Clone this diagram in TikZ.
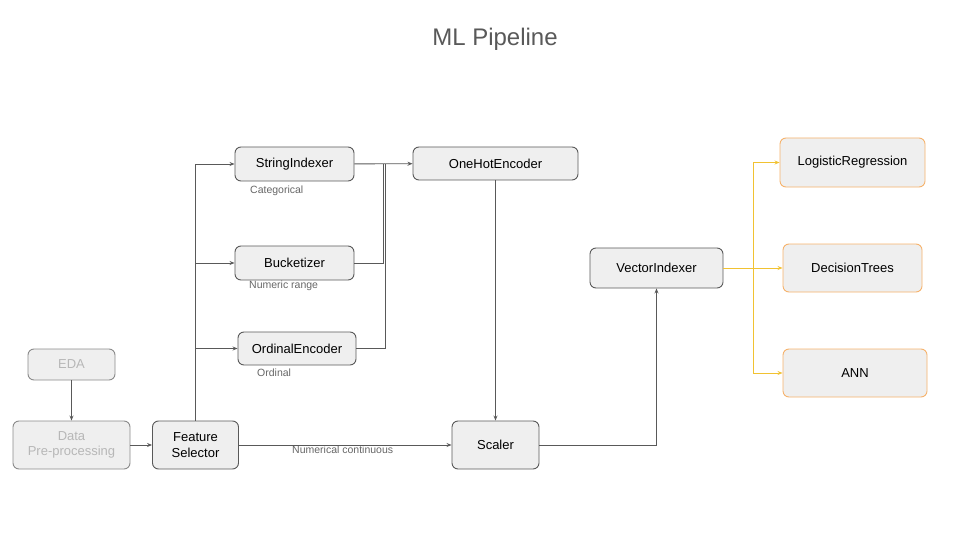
\documentclass[tikz,border=0pt]{standalone}
\usepackage{fontspec}
\setmainfont{Liberation Sans}
\usetikzlibrary{arrows.meta}
\definecolor{boxfill}{HTML}{EFEFEF}
\definecolor{boxdraw}{HTML}{595959}
\definecolor{fadedraw}{HTML}{8A8A8A}
\definecolor{fadetext}{HTML}{B7B7B7}
\definecolor{lbltext}{HTML}{666666}
\definecolor{titletext}{HTML}{595959}
\definecolor{orgdraw}{HTML}{F6B26B}
\definecolor{yelline}{HTML}{F1C232}
\begin{document}
\begin{tikzpicture}[x=1pt,y=-1pt,
  box/.style={draw=boxdraw,fill=boxfill,rounded corners=6pt,line width=0.9pt,
    font=\fontsize{13}{15.5}\selectfont,text=black,inner sep=0pt,align=center},
  fadebox/.style={box,draw=fadedraw,text=fadetext},
  orgbox/.style={box,draw=orgdraw},
  conn/.style={draw=boxdraw,line width=0.9pt,-{Stealth[length=5pt,width=4pt]}},
  plain/.style={draw=boxdraw,line width=0.9pt},
  yconn/.style={draw=yelline,line width=0.9pt,-{Stealth[length=5pt,width=4pt]}},
  yplain/.style={draw=yelline,line width=0.9pt},
  lbl/.style={font=\fontsize{10.5}{12}\selectfont,text=lbltext,inner sep=0pt,anchor=west}]
\useasboundingbox (0,0) rectangle (960,540);

\node[font=\fontsize{24}{28}\selectfont,text=titletext] (title) at (495,39) {ML Pipeline};

\node[fadebox,minimum width=87pt,minimum height=31pt] (eda) at (71.5,364.5) {EDA};
\node[fadebox,minimum width=117pt,minimum height=48pt] (data) at (71.5,445) {Data\\Pre-processing};
\node[box,minimum width=86pt,minimum height=48pt] (fs) at (195.5,445) {Feature\\Selector};
\node[box,minimum width=119pt,minimum height=34pt] (si) at (294.5,164) {StringIndexer};
\node[box,minimum width=119pt,minimum height=34pt] (bu) at (294.5,263) {Bucketizer};
\node[box,minimum width=118pt,minimum height=33pt] (oe) at (297,348.5) {OrdinalEncoder};
\node[box,minimum width=165pt,minimum height=33pt] (oh) at (495.5,163.5) {OneHotEncoder};
\node[box,minimum width=133pt,minimum height=40pt] (vi) at (656.5,268) {VectorIndexer};
\node[box,minimum width=87pt,minimum height=48pt] (sc) at (495.5,445) {Scaler};
\node[orgbox,minimum width=145pt,minimum height=49pt] (lr) at (852.5,162.5) {LogisticRegression};
\node[orgbox,minimum width=139pt,minimum height=48pt] (dt) at (852.5,268) {DecisionTrees};
\node[orgbox,minimum width=144pt,minimum height=48pt] (ann) at (855,373) {ANN};

\node[lbl] (lcat) at (250,190.5) {Categorical};
\node[lbl] (lnum) at (249,286) {Numeric range};
\node[lbl] (lord) at (257,373) {Ordinal};
\node[lbl] (lcont) at (292,450) {Numerical continuous};

\coordinate (j1) at (383,164);
\coordinate (j2) at (385.5,164);
\coordinate (vj) at (753,268);

\draw[conn] (eda) -- (data);
\draw[conn] (data) -- (fs);
\draw[conn] (fs.north) |- (si.west);
\draw[conn] (fs.north) |- (bu.west);
\draw[conn] (fs.north) |- (oe.west);
\draw[conn] (si) -- (oh);
\draw[plain] (bu.east) -| (j1);
\draw[plain] (oe.east) -| (j2);
\draw[conn] (fs) -- (sc);
\draw[conn] (oh.south) -- (oh.south |- sc.north);
\draw[conn] (sc.east) -| (vi.south);
\draw[yplain] (vi.east) -- (vj);
\draw[yconn] (vj) |- (lr.west);
\draw[yconn] (vj) -- (dt.west);
\draw[yconn] (vj) |- (ann.west);
\end{tikzpicture}
\end{document}
